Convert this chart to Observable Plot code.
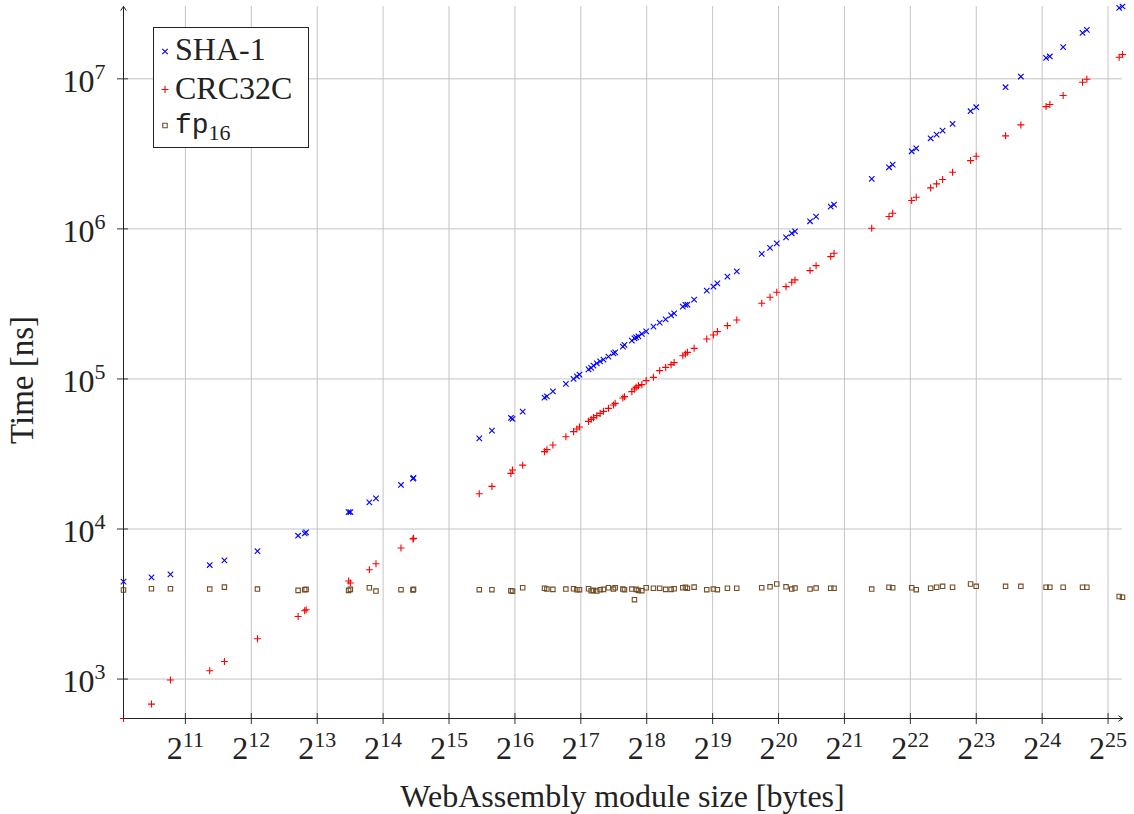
<!DOCTYPE html>
<html><head><meta charset="utf-8">
<script src="https://cdn.jsdelivr.net/npm/d3@7"></script>
<script src="https://cdn.jsdelivr.net/npm/@observablehq/plot@0.6"></script>
<style>
html,body{margin:0;padding:0;background:#fff;}
#wrap{position:relative;width:1134px;height:814px;}
#wrap svg{display:block;}
</style></head><body><div id="wrap"></div>
<script>
// WebAssembly module sizes [bytes]
const sizes = [1068, 1433, 1750, 2645, 3087, 4370, 6700, 7181, 7287, 11400,
  11610, 14175, 15200, 19770, 22430, 22560, 45050, 51450, 62820, 63900,
  71110, 89450, 91750, 97700, 112000, 121400, 125750, 129250, 142100, 146150,
  149700, 155050, 160560, 166330, 175250, 184680, 188090, 203950, 207360, 224130,
  230430, 234490, 240250, 249040, 260570, 281280, 300420, 319820, 338690, 349700,
  383000, 393740, 402130, 431490, 492830, 528480, 551020, 612370, 675800, 878710,
  958920, 1029180, 1134560, 1204810, 1246760, 1460660, 1556090, 1815080, 1880100, 2793400,
  3351250, 3483370, 4253020, 4462740, 5192550, 5528090, 5888800, 6538920, 7902070, 8384410,
  11416900, 13413380, 17481860, 18186500, 20921190, 25652360, 26843550, 37715180, 39057360];
// Time [ns]
const sha1 = [4456, 4756, 4980, 5754, 6175, 7130, 9020, 9350, 9490, 12980,
  12980, 15040, 15990, 19650, 21650, 21880, 40180, 45190, 54950, 54120,
  60530, 75050, 76560, 82650, 92640, 100000, 104000, 106900, 115800, 118400,
  122700, 127100, 131000, 134600, 140900, 148200, 150400, 164100, 168600, 179900,
  186600, 189300, 192200, 199500, 207600, 223200, 237100, 249500, 265500, 273600,
  303400, 311200, 312600, 338000, 388000, 412100, 433500, 480800, 521300, 680800,
  746400, 801700, 879000, 935100, 963800, 1124000, 1208000, 1408000, 1452000, 2154000,
  2574000, 2683000, 3291000, 3446000, 4018000, 4254000, 4519000, 5012000, 6081000, 6466000,
  8790000, 10360000, 13800000, 14090000, 16250000, 20270000, 21220000, 29740000, 30340000];
const crc32c = [546, 681, 985, 1136, 1310, 1856, 2614, 2853, 2897, 4500,
  4365, 5354, 5870, 7470, 8580, 8660, 17190, 19230, 23480, 24730,
  26630, 32760, 33790, 36310, 41230, 44560, 46420, 47860, 52150, 53790,
  55240, 56940, 58960, 60820, 63680, 67100, 68770, 74690, 76200, 82280,
  85770, 87920, 90250, 91660, 97470, 102500, 113600, 119400, 124500, 128500,
  142900, 146800, 150400, 159900, 184800, 196400, 206700, 226500, 247300, 319200,
  349900, 377800, 412100, 440600, 457100, 527200, 568900, 653600, 687600, 1009000,
  1208000, 1271000, 1545000, 1625000, 1876000, 1995000, 2133000, 2384000, 2852000, 3048000,
  4169000, 4932000, 6531000, 6745000, 7741000, 9488000, 9934000, 13930000, 14520000];
const fp16 = [3920, 4000, 4000, 3980, 4100, 3980, 3900, 3940, 3960, 3900,
  3960, 4060, 3860, 3940, 3920, 3960, 3940, 3940, 3880, 3850,
  4060, 4030, 3980, 3960, 3980, 4000, 3940, 3940, 4000, 3880,
  3900, 3860, 3940, 3960, 4060, 3980, 4060, 3980, 3940, 3980,
  3380, 3960, 3900, 3880, 4060, 4030, 4030, 3960, 3960, 4000,
  4060, 4090, 4030, 4100, 3940, 3980, 3940, 4030, 4030, 4060,
  4120, 4300, 4120, 3980, 4040, 3980, 4040, 4030, 4030, 3980,
  4090, 4060, 4060, 3940, 4030, 4090, 4150, 4090, 4300, 4150,
  4150, 4150, 4090, 4090, 4090, 4090, 4090, 3550, 3510];

const seriesNames = ["SHA-1", "CRC32C", "fp16"];
const seriesColors = ["#0000ff", "#ff0000", "#734d26"];
const seriesSymbols = ["times", "plus", "square"];
const xTickExponents = [11, 12, 13, 14, 15, 16, 17, 18, 19, 20, 21, 22, 23, 24, 25];
const yTickExponents = [3, 4, 5, 6, 7];

const SERIF = "'Liberation Serif', serif";
const seriesValues = [sha1, crc32c, fp16];
const seriesRadius = [2.6, 2.4, 2.5];
const xTicks = xTickExponents.map(e => 2 ** e);
const yTicks = yTickExponents.map(e => 10 ** e);
const xDomain = d3.extent(sizes);
const yDomain = d3.extent([...sha1, ...crc32c, ...fp16]);
const axisLines = [
  {x1: xDomain[0], y1: yDomain[0], x2: xDomain[0], y2: yDomain[1]},
  {x1: xDomain[0], y1: yDomain[0], x2: xDomain[1], y2: yDomain[0]}
];

const dotMarks = seriesNames.map((name, k) =>
  Plot.dot(sizes.map((s, i) => ({size: s, time: seriesValues[k][i]})), {
    x: "size", y: "time", symbol: seriesSymbols[k], stroke: seriesColors[k],
    r: seriesRadius[k], strokeWidth: 1.1, fill: "none"
  }));

const chart = Plot.plot({
  width: 1134, height: 814,
  marginLeft: 123, marginRight: 12, marginTop: 6, marginBottom: 96,
  style: {fontFamily: SERIF, fontSize: "32px", background: "#fff", color: "#222"},
  x: {type: "log", base: 2, domain: xDomain},
  y: {type: "log", domain: yDomain},
  marks: [
    Plot.gridX(xTicks, {stroke: "#c4c4c4", strokeOpacity: 1, strokeWidth: 1}),
    Plot.gridY(yTicks, {stroke: "#c4c4c4", strokeOpacity: 1, strokeWidth: 1}),
    Plot.axisX(xTicks, {tickSize: 6, tickPadding: 0, label: null, stroke: "#333",
      tickFormat: d => `2^${Math.round(Math.log2(d))}`}),
    Plot.axisX(xTicks, {tickSize: -5, label: null, stroke: "#333", tickFormat: () => ""}),
    Plot.axisY(yTicks, {tickSize: 6, tickPadding: 12, label: null, stroke: "#333",
      tickFormat: d => `10^${Math.round(Math.log10(d))}`}),
    Plot.axisY(yTicks, {tickSize: -5, label: null, stroke: "#333", tickFormat: () => ""}),
    ...dotMarks,
    Plot.arrow(axisLines, {x1: "x1", y1: "y1", x2: "x2", y2: "y2", stroke: "#222",
      strokeWidth: 1, headLength: 7, headAngle: 70})
  ]
});

document.getElementById("wrap").appendChild(chart);

const NS = "http://www.w3.org/2000/svg";
function supify(t, baseY, supDy) {
  const m = (t.textContent || "").match(/^(\d+)\^(\d+)$/);
  if (!m) return;
  t.removeAttribute("dy");
  t.setAttribute("y", baseY);
  t.textContent = "";
  const a = document.createElementNS(NS, "tspan");
  a.textContent = m[1];
  const b = document.createElementNS(NS, "tspan");
  b.textContent = m[2];
  b.setAttribute("dy", supDy);
  b.setAttribute("font-size", "22px");
  t.appendChild(a); t.appendChild(b);
}
chart.querySelectorAll('g[aria-label="x-axis tick label"] text').forEach(t => supify(t, 34, -12));
chart.querySelectorAll('g[aria-label="y-axis tick label"] text').forEach(t => supify(t, 13, -13));

const svg = d3.select(chart);
const xs = chart.scale("x"), ys = chart.scale("y");
const xMid = (xs.range[0] + xs.range[1]) / 2;
const yMid = (ys.range[0] + ys.range[1]) / 2;
svg.append("text").attr("x", xMid).attr("y", 807).attr("text-anchor", "middle")
  .attr("font-family", SERIF).attr("font-size", "32px")
  .attr("fill", "#222").text("WebAssembly module size [bytes]");
svg.append("text").attr("transform", `translate(33,${yMid + 18}) rotate(-90)`)
  .attr("font-family", SERIF).attr("font-size", "33px")
  .attr("text-anchor", "middle").attr("fill", "#222").text("Time [ns]");

// legend
const lg = svg.append("g").attr("text-anchor", "start");
lg.append("rect").attr("x", 153.5).attr("y", 27.5).attr("width", 155).attr("height", 120)
  .attr("fill", "#fff").attr("stroke", "#222").attr("stroke-width", 1);
const d3Symbols = {times: d3.symbolTimes, plus: d3.symbolPlus, square: d3.symbolSquare};
const rowY = [51.5, 89.5, 125.5];
const rowBase = [60, 99, 133];
seriesNames.forEach((name, k) => {
  lg.append("path")
    .attr("d", d3.symbol(d3Symbols[seriesSymbols[k]], Math.PI * seriesRadius[k] ** 2)())
    .attr("transform", `translate(165,${rowY[k]})`)
    .attr("fill", "none").attr("stroke", seriesColors[k]).attr("stroke-width", 1.1);
  const t = lg.append("text").attr("x", 175).attr("y", rowBase[k])
    .attr("text-anchor", "start").attr("font-family", SERIF).attr("font-size", "32px")
    .attr("fill", "#222");
  if (name === "fp16") {
    t.append("tspan").attr("font-family", "'Liberation Mono', monospace").attr("font-size", "28px").text("fp");
    t.append("tspan").attr("font-family", SERIF).attr("font-size", "22px").attr("dy", 7).text("16");
  } else {
    t.text(name);
  }
});
</script></body></html>
